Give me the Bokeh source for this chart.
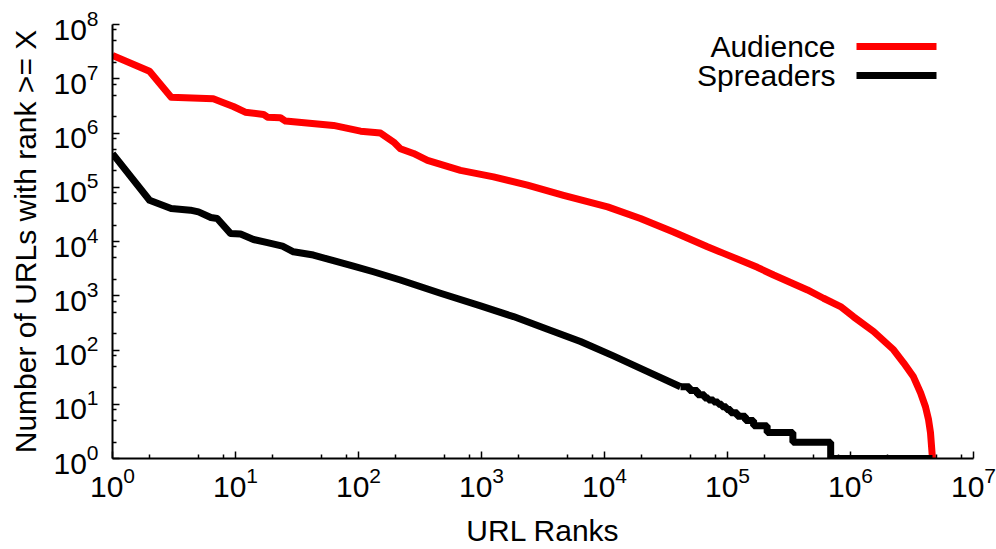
from bokeh.plotting import figure
from bokeh.models import FixedTicker, Label, BoxAnnotation
from bokeh.embed import file_html
from bokeh.resources import INLINE

# ---- data ----
aud_rank = [1, 2, 3, 6.6, 7.8, 9.6, 12, 16.9, 18.2, 23.2, 25.5, 62.6, 104, 151, 193, 219,
            280, 364, 675, 1253, 2366, 4645, 10600, 19600, 36400, 68700, 93000, 175000,
            237000, 447000, 603000, 830000, 1060000, 1540000, 2240000, 2700000, 3250000,
            3710000, 4070000, 4310000, 4470000, 4640000]
aud_count = [2.7e7, 1.37e7, 4.57e6, 4.27e6, 3.7e6, 3.08e6, 2.42e6, 2.2e6, 1.96e6, 1.91e6,
             1.66e6, 1.38e6, 1.08e6, 9.96e5, 6.8e5, 5.14e5, 4.2e5, 3.13e5, 2.05e5, 1.55e5,
             1.09e5, 7.1e4, 4.35e4, 2.66e4, 1.5e4, 8.0e3, 6.04e3, 3.34e3, 2.41e3, 1280,
             900, 631, 408, 219, 101, 58, 32, 16.3, 9, 5.2, 3, 1]

spr_rank = [1, 2, 3, 4.3, 5, 6.3, 7.1, 9.1, 11, 14, 18.2, 24.1, 29.6, 43, 62.6, 91, 132,
            219, 464, 982, 1820, 3440, 6380, 11800, 22400, 41500]
spr_count = [4.17e5, 5.77e4, 4.06e4, 3.78e4, 3.52e4, 2.77e4, 2.66e4, 1.41e4, 1.37e4,
             1.09e4, 9.5e3, 8.2e3, 6.47e3, 5.62e3, 4.42e3, 3.53e3, 2.77e3, 1.95e3, 1.11e3,
             649, 413, 242, 143, 78, 40, 21]

# integer-count tail of the Spreaders curve (stair steps)
spr_tail_rank = [41500, 49000, 57000, 65000, 70000, 77000, 84000, 90000, 98000, 106000,
                 120000, 140000, 163000, 210000, 340000, 690000, 4640000]
spr_tail_count = [21, 18, 15, 13, 12, 11, 10, 9, 8, 7, 6, 5, 4, 3, 2, 1, 1]

x_major = [10 ** i for i in range(0, 8)]
x_minor = [k * 10 ** i for i in range(0, 7) for k in (2, 5, 8)]
y_major = [10 ** i for i in range(0, 9)]
y_minor = [k * 10 ** i for i in range(0, 8) for k in (2, 5, 8)]

series_names = ["Audience", "Spreaders"]
series_colors = ["#ff0000", "#000000"]

FONT = "Liberation Sans"

p = figure(width=996, height=549, x_axis_type="log", y_axis_type="log",
           x_range=(1, 1e7), y_range=(1, 1e8),
           output_backend="svg", toolbar_location=None,
           min_border_left=112, min_border_right=23, min_border_top=24, min_border_bottom=90)
p.outline_line_color = None
p.grid.visible = False
p.background_fill_color = "white"
p.border_fill_color = "white"

p.line(aud_rank, aud_count, line_color=series_colors[0], line_width=7, line_join="round")
p.line(spr_rank, spr_count, line_color=series_colors[1], line_width=7, line_join="round")
p.step(spr_tail_rank, spr_tail_count, mode="after", line_color=series_colors[1], line_width=7)

p.xaxis.ticker = FixedTicker(ticks=x_major, minor_ticks=x_minor)
p.yaxis.ticker = FixedTicker(ticks=y_major, minor_ticks=y_minor)

for ax in (p.xaxis, p.yaxis):
    ax.axis_line_width = 2
    ax.axis_line_color = "black"
    ax.major_tick_in = 7
    ax.major_tick_out = 0
    ax.minor_tick_in = 4
    ax.minor_tick_out = 0
    ax.major_tick_line_color = "black"
    ax.minor_tick_line_color = "black"
    ax.major_tick_line_width = 1.5
    ax.minor_tick_line_width = 1.5
    ax.major_label_text_font = FONT
    ax.major_label_text_font_size = "30px"
    ax.major_label_text_color = "black"
    ax.axis_label_text_font = FONT
    ax.axis_label_text_font_size = "30px"
    ax.axis_label_text_font_style = "normal"
    ax.axis_label_text_color = "black"

p.xaxis.axis_label = "URL Ranks"
p.yaxis.axis_label = "Number of URLs with rank >= X"
p.xaxis.major_label_standoff = 8
p.xaxis.axis_label_standoff = 14
p.yaxis.major_label_standoff = 14
p.yaxis.axis_label_standoff = 8

# legend: label on the left, line sample on the right (screen units, frame relative)
leg_y = [412, 383]
for name, col, yy in zip(series_names, series_colors, leg_y):
    p.add_layout(Label(x=723, y=yy, x_units="screen", y_units="screen", text=name,
                       text_align="right", text_baseline="middle",
                       text_font=FONT, text_font_size="30px", text_color="black"))
    p.add_layout(BoxAnnotation(left=744, right=824, bottom=yy - 3.5, top=yy + 3.5,
                               left_units="screen", right_units="screen",
                               bottom_units="screen", top_units="screen",
                               fill_color=col, fill_alpha=1.0, line_color=None))

open("out.html", "w").write(file_html(p, INLINE))
